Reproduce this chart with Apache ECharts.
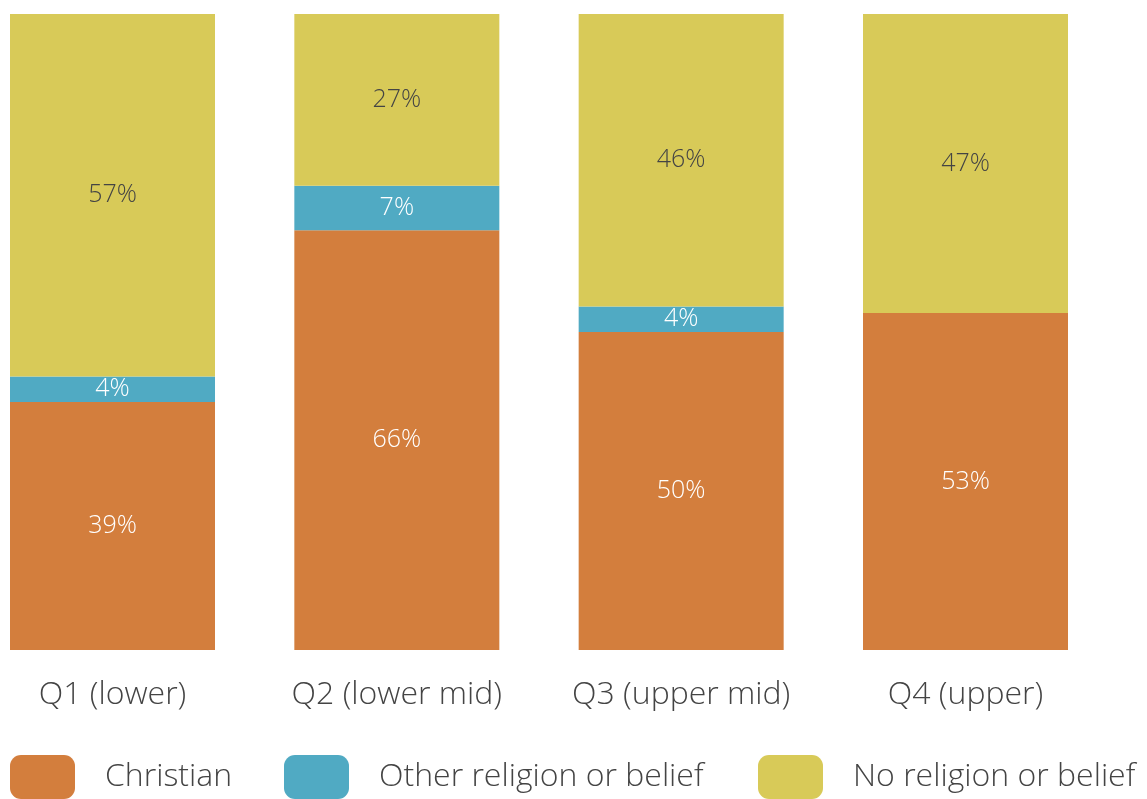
<!DOCTYPE html>
<html>
<head>
<meta charset="utf-8">
<title>Religion by income quartile</title>
<script src="https://cdn.jsdelivr.net/npm/echarts@6/dist/echarts.min.js"></script>
<style>
  html, body { margin: 0; padding: 0; background: #ffffff; }
  #chart { width: 1147px; height: 799px; }
</style>
</head>
<body>
<div id="chart"></div>
<script>
// Income quartiles along the x axis
const categories = ['Q1 (lower)', 'Q2 (lower mid)', 'Q3 (upper mid)', 'Q4 (upper)'];

// Share of each group, percent
const christian = [39, 66, 50, 53];
const otherReligion = [4, 7, 4, 0];
const noReligion = [57, 27, 46, 47];

const seriesNames = ['Christian', 'Other religion or belief', 'No religion or belief'];
const colors = ['#D37E3D', '#50AAC3', '#D8CA58'];
const labelColors = ['#ffffff', '#ffffff', '#444444'];

const FONT = '"Open Sans", "Helvetica Neue", Arial, sans-serif';

const chart = echarts.init(document.getElementById('chart'), null, { renderer: 'canvas' });

const makeSeries = (name, data, i) => ({
  name: name,
  type: 'bar',
  stack: 'total',
  data: data,
  barWidth: 205,
  clip: false,
  itemStyle: { color: colors[i] },
  emphasis: { disabled: true },
  label: {
    show: true,
    position: 'inside',
    color: labelColors[i],
    fontFamily: FONT,
    fontWeight: 300,
    fontSize: 25,
    formatter: p => (p.value > 0 ? p.value + '%' : '')
  }
});

const legendBase = {
  top: 755,
  padding: 0,
  itemWidth: 65,
  itemHeight: 44,
  itemGap: 30,
  icon: 'roundRect',
  selectedMode: false,
  textStyle: {
    fontFamily: FONT,
    fontWeight: 300,
    fontSize: 32,
    color: '#444444',
    padding: [8, 0, 0, 25]
  }
};

chart.setOption({
  animation: false,
  backgroundColor: '#ffffff',
  // bar centres sit on the grid edges (boundaryGap off), 284px apart
  grid: { left: 112.5, right: 181.5, top: 14, bottom: 149, containLabel: false },
  legend: [
    Object.assign({}, legendBase, { left: 10, data: [seriesNames[0]] }),
    Object.assign({}, legendBase, { left: 284, data: [seriesNames[1]] }),
    Object.assign({}, legendBase, { left: 758, data: [seriesNames[2]] })
  ],
  xAxis: {
    type: 'category',
    data: categories,
    boundaryGap: false,
    axisLine: { show: false },
    axisTick: { show: false },
    splitLine: { show: false },
    axisLabel: {
      margin: 29,
      fontFamily: FONT,
      fontWeight: 300,
      fontSize: 32,
      color: '#444444'
    }
  },
  yAxis: {
    type: 'value',
    min: 0,
    max: 100,
    show: false
  },
  series: [
    makeSeries(seriesNames[0], christian, 0),
    makeSeries(seriesNames[1], otherReligion, 1),
    makeSeries(seriesNames[2], noReligion, 2)
  ]
});
</script>
</body>
</html>
